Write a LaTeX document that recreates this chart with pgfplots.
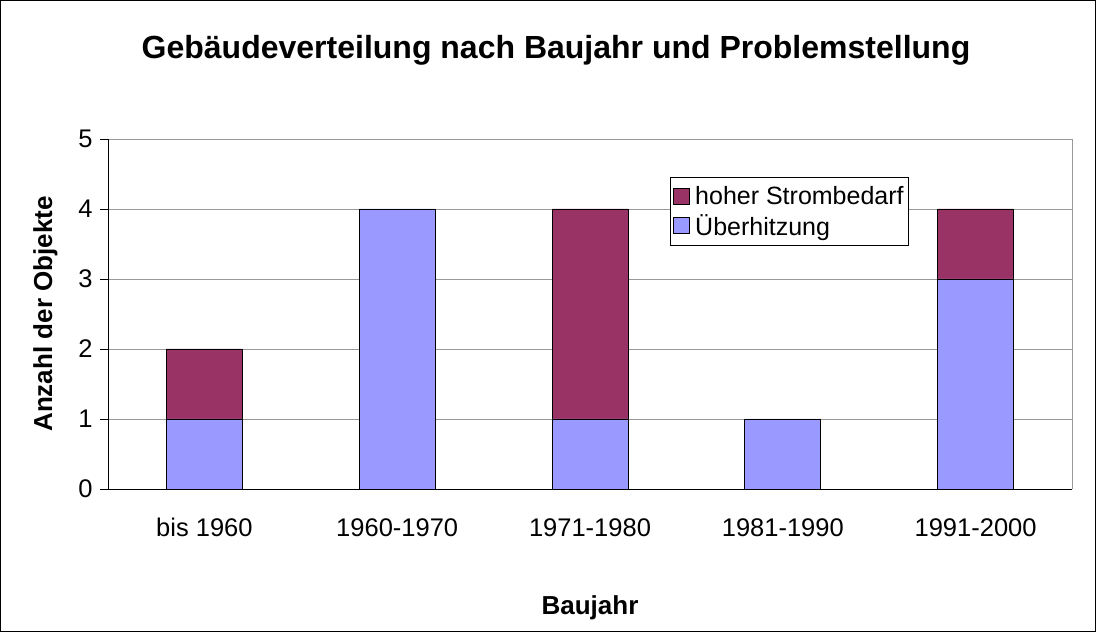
\documentclass[border=0pt]{standalone}
\usepackage{fontspec}
\setmainfont{Liberation Sans}
\usepackage{pgfplots}
\pgfplotsset{compat=1.18}
\definecolor{maroonx}{HTML}{993366}
\definecolor{lav}{HTML}{9999FF}
\begin{document}
\begin{tikzpicture}[x=1pt,y=1pt]
\useasboundingbox (0,0) rectangle (1096,632);
\draw[black,line width=1pt] (0.5,0.5) rectangle (1095.5,631.5);
\node[font=\fontsize{32}{38}\selectfont\bfseries] at (556,582) {Gebäudeverteilung nach Baujahr und Problemstellung};
\begin{axis}[
  at={(108pt,143pt)}, anchor=south west,
  width=964pt, height=350pt, scale only axis,
  ybar stacked, bar width=76pt,
  xmin=-0.5, xmax=4.5, ymin=0, ymax=5,
  xtick={0,1,2,3,4},
  xticklabels={bis 1960,1960-1970,1971-1980,1981-1990,1991-2000},
  extra x ticks={0.5,1.5,2.5,3.5},
  extra x tick labels={},
  extra x tick style={major tick length=8pt, tick style={black, line width=0.8pt}, tick pos=bottom},
  x tick style={draw=none},
  ytick={0,1,2,3,4,5},
  ymajorgrids, grid style={gray!80, line width=0.8pt},
  y tick style={black, line width=0.8pt},
  major tick length=8pt,
  tick align=outside, ytick pos=left, xtick pos=bottom,
  axis line style={draw=none},
  xticklabel style={font=\fontsize{25.5}{30}\selectfont, anchor=base, yshift=-40pt},
  yticklabel style={font=\fontsize{25.5}{30}\selectfont, xshift=-4pt},
  /pgf/number format/assume math mode=true,
  xlabel={\bfseries Baujahr}, ylabel={\bfseries Anzahl der Objekte},
  xlabel style={font=\fontsize{26}{30}\selectfont, yshift=-36pt},
  ylabel style={font=\fontsize{26}{30}\selectfont, yshift=14pt},
  legend style={at={(0.583,0.891)}, anchor=north west, draw=black, line width=0.8pt,
    font=\fontsize{25}{30}\selectfont, inner xsep=3pt, inner ysep=7pt, row sep=4pt,
    cells={anchor=west}, /tikz/every odd column/.style={column sep=3pt}},
  legend image code/.code={\draw[#1, draw=black, line width=0.8pt] (0pt,-8pt) rectangle (16pt,8pt);},
  reverse legend,
]
\addplot[fill=lav, draw=black, line width=0.8pt] coordinates {(0,1) (1,4) (2,1) (3,1) (4,3)};
\addplot[fill=maroonx, draw=black, line width=0.8pt] coordinates {(0,1) (1,0) (2,3) (3,0) (4,1)};
\legend{Überhitzung, hoher Strombedarf}
\end{axis}
\draw[gray!80, line width=0.8pt] (108,493) -- (1072,493) -- (1072,143);
\draw[black, line width=0.8pt] (108,143) -- (108,493);
\draw[black, line width=0.8pt] (100,143) -- (1072,143);
\end{tikzpicture}
\end{document}
